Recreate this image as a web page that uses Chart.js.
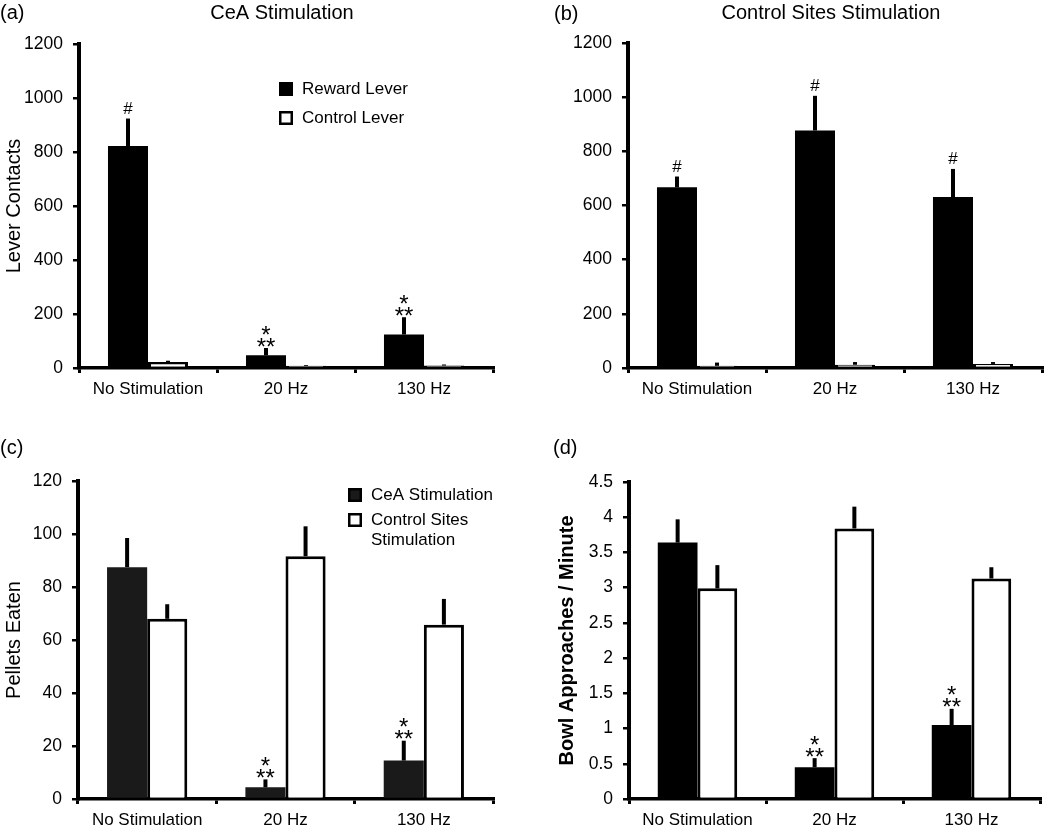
<!DOCTYPE html>
<html>
<head>
<meta charset="utf-8">
<script src="https://cdn.jsdelivr.net/npm/chart.js@4.4.1/dist/chart.umd.min.js"></script>
<style>
  html, body { margin: 0; padding: 0; background: #fff; }
  #wrap { position: relative; width: 1050px; height: 833px; }
  canvas { position: absolute; }
</style>
</head>
<body>
<div id="wrap">
  <canvas id="chartA" width="525" height="416" style="left:0;top:0"></canvas>
  <canvas id="chartB" width="525" height="416" style="left:525px;top:0"></canvas>
  <canvas id="chartC" width="525" height="417" style="left:0;top:416px"></canvas>
  <canvas id="chartD" width="525" height="417" style="left:525px;top:416px"></canvas>
</div>
<script>
// du lieu doc tu hinh
const categories = ['No Stimulation', '20 Hz', '130 Hz'];

// (a) CeA stimulation - lever contacts
const aReward = [822, 47, 124];
const aRewardErr = [102, 27, 64];
const aControl = [22, 8, 9];
const aControlErr = [5, 3, 4];
const aMarks = ['#', '*\n**', '*\n**'];

// (b) control sites stimulation - lever contacts
const bReward = [667, 877, 631];
const bRewardErr = [40, 128, 104];
const bControl = [8, 12, 15];
const bControlErr = [12, 10, 7];
const bMarks = ['#', '#', '#'];

// (c) pellets eaten
const cCeA = [87.5, 4.4, 14.5];
const cCeAErr = [11, 3, 7.5];
const cControl = [68, 91.6, 65.8];
const cControlErr = [5.5, 11.3, 9.7];
const cMarks = ['', '*\n**', '*\n**'];

// (d) bowl approaches / minute
const dCeA = [3.64, 0.45, 1.05];
const dCeAErr = [0.33, 0.13, 0.23];
const dControl = [2.99, 3.84, 3.13];
const dControlErr = [0.33, 0.31, 0.16];
const dMarks = ['', '*\n**', '*\n**'];

const FONT = "'Liberation Sans', Arial, sans-serif";

// error bar, dau #, dau sao, tieu de, chu cai panel, chu thich
const extras = {
  id: 'extras',
  afterDatasetsDraw(chart) {
    const ctx = chart.ctx;
    const y = chart.scales.y;
    ctx.save();
    chart.data.datasets.forEach((ds, i) => {
      const meta = chart.getDatasetMeta(i);
      meta.data.forEach((bar, j) => {
        const top = y.getPixelForValue(ds.data[j] + ds.errors[j]);
        ctx.strokeStyle = '#000';
        ctx.lineWidth = 4;
        ctx.lineCap = 'butt';
        ctx.beginPath();
        ctx.moveTo(bar.x, bar.y);
        ctx.lineTo(bar.x, top);
        ctx.stroke();

        const mark = ds.marks ? ds.marks[j] : '';
        if (!mark) return;
        ctx.fillStyle = '#000';
        ctx.textAlign = 'center';
        ctx.textBaseline = 'alphabetic';
        if (mark.includes('*')) {
          ctx.font = '24px ' + FONT;
          const lines = mark.split('\n');
          lines.forEach((t, k) => {
            ctx.fillText(t, bar.x, top + 6.5 - (lines.length - 1 - k) * 12);
          });
        } else {
          ctx.font = '17px ' + FONT;
          ctx.fillText(mark, bar.x, top - 5);
        }
      });
    });
    ctx.restore();
  },
  afterDraw(chart, args, opts) {
    const ctx = chart.ctx;
    const area = chart.chartArea;
    ctx.save();
    ctx.fillStyle = '#000';
    ctx.textBaseline = 'middle';
    if (opts.letter) {
      ctx.font = '20px ' + FONT;
      ctx.textAlign = 'left';
      ctx.fillText(opts.letter, opts.letterX, opts.letterY);
    }
    if (opts.title) {
      ctx.font = '20px ' + FONT;
      ctx.textAlign = 'center';
      ctx.fillText(opts.title, opts.titleX, opts.titleY);
    }
    if (opts.legend) {
      const lg = opts.legend;
      let yy = lg.y;
      chart.data.datasets.forEach((ds, i) => {
        const sx = area.left + lg.x;
        ctx.fillStyle = ds.backgroundColor;
        ctx.fillRect(sx, yy, 14, 14);
        ctx.strokeStyle = '#000';
        ctx.lineWidth = 2.5;
        ctx.strokeRect(sx + 1.25, yy + 1.25, 11.5, 11.5);
        ctx.fillStyle = '#000';
        ctx.font = lg.size + 'px ' + FONT;
        ctx.textAlign = 'left';
        const lines = lg.lines[i];
        lines.forEach((t, k) => {
          ctx.fillText(t, sx + 23, yy + 7 + k * 20);
        });
        yy += lg.gap;
      });
    }
    ctx.restore();
  }
};

function yAxis(max, step, title, bold, width, titlePad) {
  return {
    min: 0,
    max: max,
    ticks: { stepSize: step, padding: 10, color: '#000', font: { family: FONT, size: 17.5 },
             callback: v => String(v) },
    grid: { drawOnChartArea: false, drawTicks: true, tickLength: 6, color: '#000', lineWidth: 2.5 },
    border: { display: true, color: '#000', width: 4 },
    title: title
      ? { display: true, text: title, color: '#000', padding: { top: titlePad, bottom: 0 },
          font: { family: FONT, size: 20, weight: bold ? 'bold' : 'normal' } }
      : { display: false },
    afterFit: s => { s.width = width; }
  };
}

function xAxis() {
  return {
    ticks: { padding: 6, color: '#000', font: { family: FONT, size: 17 } },
    grid: { offset: true, drawOnChartArea: false, drawTicks: true, tickLength: 5, color: '#000', lineWidth: 3 },
    border: { display: true, color: '#000', width: 3.5 },
    afterFit: s => { s.height = 30; }
  };
}

function barSet(label, data, errors, marks, fill) {
  return {
    label: label,
    data: data,
    errors: errors,
    marks: marks,
    backgroundColor: fill,
    borderColor: '#000',
    borderWidth: fill === '#fff' ? 3 : 0,
    categoryPercentage: 0.58,
    barPercentage: 1.0
  };
}

function makeChart(id, datasets, yOpts, padding, extraOpts) {
  return new Chart(document.getElementById(id), {
    type: 'bar',
    data: { labels: categories, datasets: datasets },
    options: {
      responsive: false,
      animation: false,
      layout: { padding: padding },
      scales: { x: xAxis(), y: yOpts },
      plugins: { legend: { display: false }, tooltip: { enabled: false }, extras: extraOpts }
    },
    plugins: [extras]
  });
}

makeChart('chartA',
  [barSet('Reward Lever', aReward, aRewardErr, aMarks, '#000'),
   barSet('Control Lever', aControl, aControlErr, null, '#fff')],
  yAxis(1200, 200, 'Lever Contacts', false, 79, 2),
  { left: 0, top: 44, right: 32, bottom: 18 },
  { letter: '(a)', letterX: 0, letterY: 13, title: 'CeA Stimulation', titleX: 282, titleY: 13,
    legend: { x: 200, y: 82, gap: 29, size: 17, lines: [['Reward Lever'], ['Control Lever']] } });

makeChart('chartB',
  [barSet('Reward Lever', bReward, bRewardErr, bMarks, '#000'),
   barSet('Control Lever', bControl, bControlErr, null, '#fff')],
  yAxis(1200, 200, null, false, 103, 0),
  { left: 0, top: 43, right: 8, bottom: 18 },
  { letter: '(b)', letterX: 29, letterY: 14, title: 'Control Sites Stimulation', titleX: 306, titleY: 13 });

makeChart('chartC',
  [barSet('CeA Stimulation', cCeA, cCeAErr, cMarks, '#1a1a1a'),
   barSet('Control Sites Stimulation', cControl, cControlErr, null, '#fff')],
  yAxis(120, 20, 'Pellets Eaten', false, 78, 2),
  { left: 0, top: 65, right: 32, bottom: 4 },
  { letter: '(c)', letterX: 0, letterY: 32,
    legend: { x: 270, y: 72, gap: 25, size: 17, lines: [['CeA Stimulation'], ['Control Sites', 'Stimulation']] } });

makeChart('chartD',
  [barSet('CeA Stimulation', dCeA, dCeAErr, dMarks, '#000'),
   barSet('Control Sites Stimulation', dControl, dControlErr, null, '#fff')],
  yAxis(4.5, 0.5, 'Bowl Approaches / Minute', true, 104, 30),
  { left: 0, top: 66, right: 10, bottom: 4 },
  { letter: '(d)', letterX: 28, letterY: 32 });
</script>
</body>
</html>
